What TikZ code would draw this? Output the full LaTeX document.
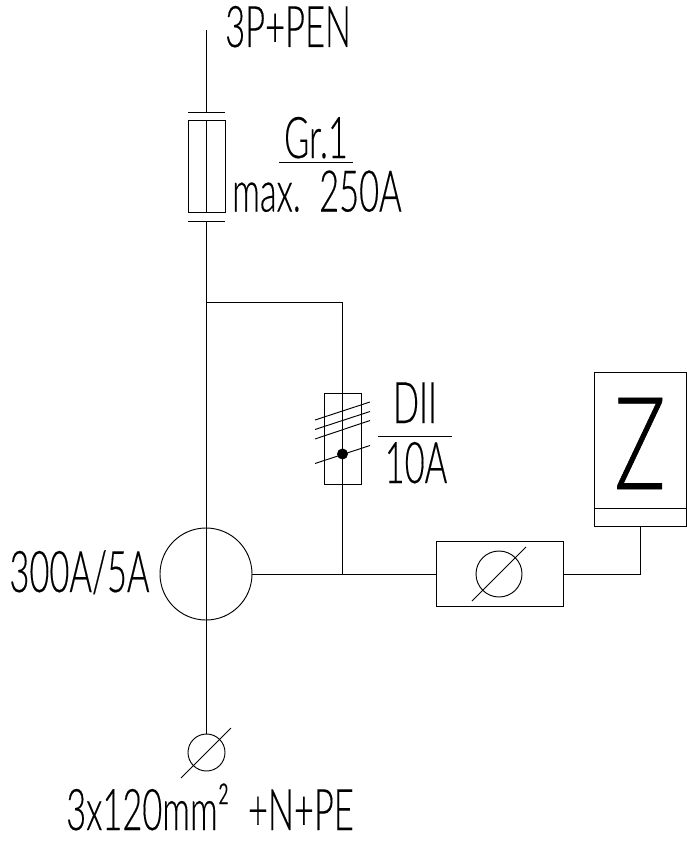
\documentclass[tikz,border=0pt]{standalone}
\usepackage{fontspec}
\setmainfont[FakeStretch=0.6,FakeBold=0.25,UprightFont=* Light]{Lato}
\newfontfamily\zfont[FakeStretch=0.66,FakeBold=0.5,UprightFont=* Light]{Lato}
\usepackage{tikz}

\begin{document}
\begin{tikzpicture}[
    x=0.03cm, y=-0.03cm,
    wire/.style={draw, line width=0.8pt},
    box/.style={rectangle, draw, line width=0.8pt, inner sep=0pt},
    dial/.style={circle, draw, line width=0.8pt, inner sep=0pt},
    label/.style={inner sep=0pt, font=\fontsize{49}{49}\selectfont},
]
\useasboundingbox (0,0) rectangle (686,843);

% Feed and group fuse
\coordinate (feed) at (206.5,30);
\coordinate (bartop) at (206.5,112);
\coordinate (barbottom) at (206.5,221);
\node[box, minimum width=1.11cm, minimum height=2.76cm] (fuse) at (206.5,166) {};
\draw[wire] (188,112) -- (225,112);
\draw[wire] (188,221) -- (225,221);
\draw[wire] (feed) -- (bartop);
\draw[wire] (fuse.north) -- (fuse.south);

% Current transformer
\node[dial, minimum size=2.76cm] (ct) at (206,574) {};

% Cable
\node[dial, minimum size=1.11cm] (cable) at (206.5,752.5) {};
\draw[wire] (barbottom) -- (cable.north);
\draw[wire] (181,778) -- (231,728);

% Branch with fuse
\coordinate (tap) at (206.5,302);
\coordinate (corner) at (342.5,302);
\coordinate (join) at (342.5,574);
\node[box, minimum width=1.11cm, minimum height=2.73cm] (fuseb) at (342.5,438.5) {};
\draw[wire] (tap) -- (corner) -- (join);
\draw[wire] (315,420) -- (370,402);
\draw[wire] (315,429.5) -- (370,411.5);
\draw[wire] (315,439) -- (370,420.5);
\draw[wire] (315,463.5) -- (370,445.5);
\node[circle, fill=black, minimum size=0.33cm, inner sep=0pt] (dot) at (342.5,454) {};

% Meter
\node[box, minimum width=3.8cm, minimum height=1.97cm] (meter) at (500,574) {};
\node[dial, minimum size=1.38cm] (gauge) at (499,574) {};
\draw[wire] (472,601) -- (526,547);
\draw[wire] (ct.east) -- (meter.west);

% Counter
\node[box, minimum width=2.76cm, minimum height=4.62cm] (counter) at (640,449) {};
\draw[wire] (594,508) -- (686,508);
\coordinate (bend) at (640,574);
\draw[wire] (meter.east) -- (bend) -- (counter.south);
\node[inner sep=0pt, anchor=base, font=\zfont\fontsize{110}{110}\selectfont] (zlabel) at (640,489) {Z};

% Labels
\node[label, anchor=base west] (supply) at (225,47) {3P+PEN};
\draw[wire] (279,162.5) -- (353,162.5);
\node[label, anchor=base] (group) at (316,158) {Gr.1};
\node[label, anchor=base west] (rating) at (232,211.5) {max.\hspace{5pt} 250A};
\draw[wire] (378,436.5) -- (452,436.5);
\node[label, anchor=base] (type) at (415,423) {DII};
\node[label, anchor=base] (amps) at (416,483) {10A};
\node[label, anchor=base] (ratio) at (79.5,592) {300A/5A};
\node[label, anchor=base west] (size) at (66,830) {3x120mm²\ \ +N+PE};

\end{tikzpicture}
\end{document}
